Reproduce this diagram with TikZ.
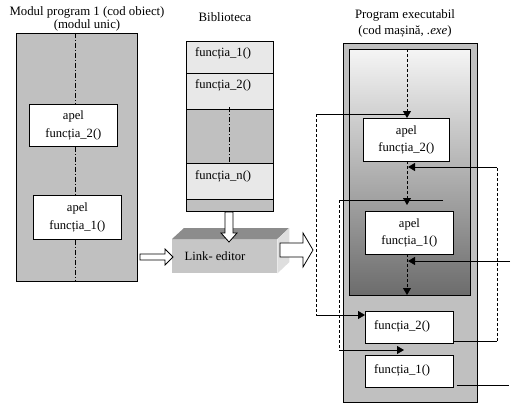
\documentclass[tikz,border=0pt]{standalone}
\usepackage{fontspec}
\setmainfont{Liberation Serif}
\usepackage{xcolor}
\usetikzlibrary{arrows.meta,positioning}
\definecolor{modgray}{RGB}{192,192,192}
\definecolor{liblight}{RGB}{232,232,232}
\definecolor{linkfront}{RGB}{198,198,198}
\definecolor{linktop}{RGB}{140,140,140}
\definecolor{linkside}{RGB}{222,222,222}
\definecolor{exdark}{RGB}{108,108,108}

\tikzset{
    block/.style={draw, line width=0.8pt, anchor=north west, inner sep=0pt},
    callbox/.style={block, fill=white, align=center, font=\fontsize{12.6}{14}\selectfont},
    fnbox/.style={block, fill=white},
    libtext/.style={anchor=north west, inner sep=0pt, font=\fontsize{12.6}{14}\selectfont},
    title/.style={align=center, font=\fontsize{12.8}{13}\selectfont},
    dashdot/.style={line width=0.8pt, dash pattern=on 5pt off 2pt on 1pt off 2pt},
    jump/.style={line width=0.8pt, dash pattern=on 3pt off 2pt},
    link/.style={line width=0.8pt},
    tip/.style={-{Triangle[width=8pt,length=7pt]}},
    hollow/.style={draw, line width=0.8pt, fill=white}
}

\begin{document}
\begin{tikzpicture}[x=1pt, y=-1pt]
    \useasboundingbox (0,0) rectangle (518,409);

    % Modul program 1
    \node[title] (modtitle) at (87,19) {Modul program 1 (cod obiect)\\(modul unic)};
    \node[block, fill=modgray, minimum width=121pt, minimum height=248pt] (modul) at (16,33) {};
    \node[callbox, minimum width=88pt, minimum height=42pt] (modapel2) at (29,104) {apel\\[4pt]funcția\_2()};
    \node[callbox, minimum width=88pt, minimum height=44pt] (modapel1) at (33,195) {apel\\[4pt]funcția\_1()};
    \draw[dashdot] (modul.north -| 75,0) -- (modapel2.north -| 75,0);
    \draw[dashdot] (modapel2.south -| 75,0) -- (modapel1.north -| 75,0);
    \draw[dashdot] (modapel1.south -| 75,0) -- (modul.south -| 75,0);

    % Biblioteca
    \node[title] (libtitle) at (225,17) {Biblioteca};
    \node[block, fill=liblight, minimum width=87pt, minimum height=32pt] (lib1) at (186,41) {};
    \node[block, fill=liblight, minimum width=87pt, minimum height=36pt] (lib2) at (186,73) {};
    \node[block, fill=modgray, minimum width=87pt, minimum height=54pt] (libgap) at (186,109) {};
    \node[block, fill=liblight, minimum width=87pt, minimum height=36pt] (libn) at (186,163) {};
    \node[block, fill=modgray, minimum width=87pt, minimum height=12pt] (libend) at (186,199) {};
    \node[libtext] (lib1txt) at ([xshift=9pt,yshift=-6pt]lib1.north west) {funcția\_1()};
    \node[libtext] (lib2txt) at ([xshift=9pt,yshift=-6pt]lib2.north west) {funcția\_2()};
    \node[libtext] (libntxt) at ([xshift=9pt,yshift=-7pt]libn.north west) {funcția\_n()};
    \draw[dashdot] (229,107) -- (libn.north -| 229,0);

    % Link-editor
    \node[anchor=north west, fill=linkfront, minimum width=105pt, minimum height=34pt, inner sep=0pt] (linked) at (172,239) {};
    \fill[linktop] (linked.north west) -- ++(12,-11) -- ++(105,0) -- (linked.north east) -- cycle;
    \fill[linkside] (linked.north east) -- ++(12,-11) -- ++(0,34) -- (linked.south east) -- cycle;
    \node[font=\fontsize{12.6}{14}\selectfont] (linktxt) at (215,256) {Link- editor};

    % hollow arrows
    \draw[hollow] (140,254) -- (165,254) -- (165,249) -- (173,257) -- (165,265) -- (165,260) -- (140,260) -- cycle;
    \draw[hollow] (225,212) -- (233,212) -- (233,233) -- (237,233) -- (229,242) -- (221,233) -- (225,233) -- cycle;
    \draw[hollow] (280,243) -- (303,243) -- (303,233) -- (313,250) -- (303,267) -- (303,257) -- (280,257) -- cycle;

    % Program executabil
    \node[title, font=\fontsize{12.8}{14}\selectfont] (extitle) at (405,23) {Program executabil\\[2pt](cod mașină, \textit{.exe})};
    \node[block, fill=modgray, minimum width=134pt, minimum height=359pt] (exe) at (343,43) {};
    \node[block, top color=white!96!black, bottom color=exdark, minimum width=121pt, minimum height=246pt] (exinner) at (349,49) {};
    \node[callbox, minimum width=86pt, minimum height=43pt] (exapel2) at (363,118) {apel\\[3pt]funcția\_2()};
    \node[callbox, minimum width=88pt, minimum height=43pt] (exapel1) at (365,211) {apel\\[3pt]funcția\_1()};
    \node[fnbox, minimum width=88pt, minimum height=32pt] (exfn2) at (365,311) {};
    \node[fnbox, minimum width=88pt, minimum height=32pt] (exfn1) at (365,355) {};
    \node[libtext] (exfn2txt) at ([xshift=9pt,yshift=-9pt]exfn2.north west) {funcția\_2()};
    \node[libtext] (exfn1txt) at ([xshift=9pt,yshift=-9pt]exfn1.north west) {funcția\_1()};

    % flow of execution
    \coordinate (flowtop) at (407,49);
    \draw[jump, tip] (flowtop) -- (407,118);
    \draw[jump, tip] (407,161) -- (407,205);
    \draw[jump, tip] (407,254) -- (407,295);

    % call and return of funcția_2
    \coordinate (c2a) at (407,114);
    \coordinate (c2b) at (316,114);
    \coordinate (c2c) at (316,315);
    \draw[link] (c2a) -- (c2b);
    \draw[jump] (c2b) -- (c2c);
    \draw[link, tip] (c2c) -- (c2c -| exfn2.west);
    \coordinate (r2a) at (497,341);
    \coordinate (r2b) at (497,167);
    \coordinate (r2c) at (408,167);
    \draw[link] (r2a -| exfn2.east) -- (r2a);
    \draw[jump] (r2a) -- (r2b);
    \draw[link, tip] (r2b) -- (r2c);

    % call and return of funcția_1
    \coordinate (c1a) at (443,200);
    \coordinate (c1b) at (339,200);
    \coordinate (c1c) at (339,350);
    \coordinate (c1d) at (404,350);
    \draw[link] (c1a) -- (c1b);
    \draw[jump] (c1b) -- (c1c);
    \draw[link, tip] (c1c) -- (c1d);
    \coordinate (r1a) at (509,385);
    \draw[link] ([xshift=3pt]exfn1.east |- r1a) -- (r1a);
    \coordinate (r1b) at (510,261);
    \coordinate (r1c) at (408,261);
    \draw[link, tip] (r1b) -- (r1c);
\end{tikzpicture}
\end{document}
